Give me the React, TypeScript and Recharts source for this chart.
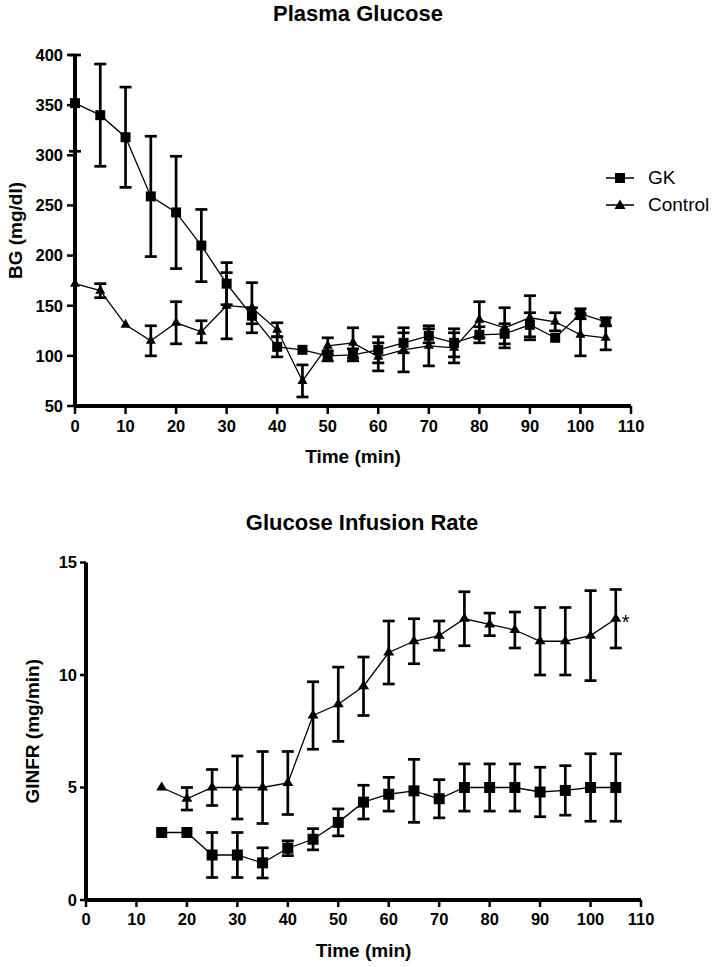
import React from 'react';
import { ComposedChart, Line, XAxis, YAxis, ErrorBar, Legend, ReferenceDot } from 'recharts';

const FONT = '"Liberation Sans", Arial, Helvetica, sans-serif';

// ---------- Plasma Glucose ----------
const bgTimes = [0, 5, 10, 15, 20, 25, 30, 35, 40, 45, 50, 55, 60, 65, 70, 75, 80, 85, 90, 95, 100, 105];
const gkBG = [352, 340, 318, 259, 243, 210, 172, 140, 109, 106, 100, 101, 106, 113, 120, 113, 121, 122, 131, 118, 142, 134];
const gkBGErr = [48, 51, 50, 60, 56, 36, 21, 8, 10, null, 5, 6, 13, 10, 7, 14, 8, 10, 12, null, 5, 4];
const controlBG = [172, 165, 131, 115, 133, 124, 150, 148, 126, 75, 110, 113, 99, 106, 110, 108, 136, 128, 138, 134, 121, 118];
const controlBGErr = [null, 7, null, 15, 21, 11, 33, 25, 7, 16, 8, 15, 14, 22, 20, 15, 18, 20, 22, 9, 21, 12];
const timeTicks = [0, 10, 20, 30, 40, 50, 60, 70, 80, 90, 100, 110];
const bgTicks = [50, 100, 150, 200, 250, 300, 350, 400];

// ---------- Glucose Infusion Rate ----------
const girTimes = [15, 20, 25, 30, 35, 40, 45, 50, 55, 60, 65, 70, 75, 80, 85, 90, 95, 100, 105];
const controlGIR = [5.0, 4.5, 5.0, 5.0, 5.0, 5.2, 8.2, 8.7, 9.5, 11.0, 11.5, 11.75, 12.5, 12.25, 12.0, 11.5, 11.5, 11.75, 12.5];
const controlGIRErr = [null, 0.5, 0.8, 1.4, 1.6, 1.4, 1.5, 1.65, 1.3, 1.4, 1.0, 0.65, 1.2, 0.5, 0.8, 1.5, 1.5, 2.0, 1.3];
const gkGIR = [3.0, 3.0, 2.0, 2.0, 1.65, 2.3, 2.7, 3.45, 4.35, 4.7, 4.85, 4.5, 5.0, 5.0, 5.0, 4.8, 4.87, 5.0, 5.0];
const gkGIRErr = [null, null, 1.0, 1.0, 0.67, 0.33, 0.47, 0.6, 0.75, 0.75, 1.4, 0.85, 1.05, 1.05, 1.05, 1.1, 1.1, 1.5, 1.5];
const girTicks = [0, 5, 10, 15];

const seriesNames = ['GK', 'Control'];

const glucoseData = bgTimes.map((t, i) => ({
  t,
  gk: gkBG[i],
  gkErr: gkBGErr[i],
  ctrl: controlBG[i],
  ctrlErr: controlBGErr[i],
}));

const girData = girTimes.map((t, i) => ({
  t,
  gk: gkGIR[i],
  gkErr: gkGIRErr[i],
  ctrl: controlGIR[i],
  ctrlErr: controlGIRErr[i],
}));

const axisLine = { stroke: '#000', strokeWidth: 4 };
const tickLine = { stroke: '#000', strokeWidth: 2.5 };
const tickStyle = { fill: '#000', fontSize: 16.5, fontWeight: 'bold', fontFamily: FONT };
const axisTitle = { fill: '#000', fontSize: 19, fontWeight: 'bold', fontFamily: FONT };

const squareDot = (size: number) => (props: any) => {
  const { cx, cy, index } = props;
  if (cx == null || cy == null) return <g key={`sq-${index}`} />;
  return <rect key={`sq-${index}`} x={cx - size / 2} y={cy - size / 2} width={size} height={size} fill="#000" />;
};

const triangleDot = (w: number, h: number) => (props: any) => {
  const { cx, cy, index } = props;
  if (cx == null || cy == null) return <g key={`tr-${index}`} />;
  const pts = `${cx},${cy - (h * 2) / 3} ${cx - w / 2},${cy + h / 3} ${cx + w / 2},${cy + h / 3}`;
  return <polygon key={`tr-${index}`} points={pts} fill="#000" />;
};

const LegendIcon = ({ shape }: { shape: string }) => (
  <svg width={28} height={14} style={{ display: 'block' }}>
    <line x1={0} y1={7} x2={28} y2={7} stroke="#000" strokeWidth={1.5} />
    {shape === 'square' ? (
      <rect x={9} y={2} width={10} height={10} fill="#000" />
    ) : (
      <polygon points="14,1.5 8.5,11 19.5,11" fill="#000" />
    )}
  </svg>
);

const renderLegend = () => (
  <div style={{ fontFamily: FONT, fontSize: 19, color: '#000' }}>
    {seriesNames.map((name, i) => (
      <div key={name} style={{ display: 'flex', alignItems: 'center', height: 27 }}>
        <LegendIcon shape={i === 0 ? 'square' : 'triangle'} />
        <span style={{ marginLeft: 14, lineHeight: '27px' }}>{name}</span>
      </div>
    ))}
  </div>
);

const titleStyle = (top: number, cx: number): React.CSSProperties => ({
  position: 'absolute',
  top,
  left: cx - 200,
  width: 400,
  textAlign: 'center',
  fontFamily: FONT,
  fontWeight: 'bold',
  fontSize: 22,
  lineHeight: '22px',
  color: '#000',
});

export default function App() {
  return (
    <div style={{ position: 'absolute', left: 0, top: 0, width: 716, height: 967, background: '#fff', overflow: 'hidden' }}>
      <div style={titleStyle(3, 358)}>Plasma Glucose</div>
      <div style={{ position: 'absolute', left: 0, top: 0 }}>
        <ComposedChart width={716} height={470} data={glucoseData} margin={{ top: 55, right: 85, bottom: 0, left: 0 }}>
          <XAxis
            type="number"
            dataKey="t"
            domain={[0, 110]}
            ticks={timeTicks}
            interval={0}
            axisLine={axisLine}
            tickLine={tickLine}
            tickSize={8}
            tickMargin={6}
            tick={tickStyle}
            height={64}
            label={{ value: 'Time (min)', position: 'insideBottom', offset: 7, ...axisTitle }}
          />
          <YAxis
            type="number"
            domain={[50, 400]}
            ticks={bgTicks}
            interval={0}
            width={75}
            axisLine={axisLine}
            tickLine={tickLine}
            tickSize={8}
            tickMargin={4}
            tick={tickStyle}
            label={{
              value: 'BG (mg/dl)',
              angle: -90,
              position: 'insideLeft',
              offset: 15,
              ...axisTitle,
              style: { textAnchor: 'middle' },
            }}
          />
          <Legend
            content={renderLegend}
            layout="horizontal"
            verticalAlign="middle"
            align="center"
            wrapperStyle={{ left: 606, top: 164, width: 'auto', height: 'auto' }}
          />
          <Line
            type="linear"
            dataKey="gk"
            name="GK"
            stroke="#000"
            strokeWidth={1.3}
            dot={squareDot(10)}
            activeDot={false}
            isAnimationActive={false}
          >
            <ErrorBar dataKey="gkErr" direction="y" width={6} strokeWidth={2.7} stroke="#000" />
          </Line>
          <Line
            type="linear"
            dataKey="ctrl"
            name="Control"
            stroke="#000"
            strokeWidth={1.3}
            dot={triangleDot(10, 9)}
            activeDot={false}
            isAnimationActive={false}
          >
            <ErrorBar dataKey="ctrlErr" direction="y" width={6} strokeWidth={2.7} stroke="#000" />
          </Line>
        </ComposedChart>
      </div>

      <div style={titleStyle(512, 362)}>Glucose Infusion Rate</div>
      <div style={{ position: 'absolute', left: 0, top: 480 }}>
        <ComposedChart width={716} height={487} data={girData} margin={{ top: 82.5, right: 75, bottom: 0, left: 0 }}>
          <XAxis
            type="number"
            dataKey="t"
            domain={[0, 110]}
            ticks={timeTicks}
            interval={0}
            axisLine={axisLine}
            tickLine={tickLine}
            tickSize={7}
            tickMargin={6}
            tick={tickStyle}
            height={67}
            label={{ value: 'Time (min)', position: 'insideBottom', offset: 10, ...axisTitle }}
          />
          <YAxis
            type="number"
            domain={[0, 15]}
            ticks={girTicks}
            interval={0}
            width={86}
            axisLine={axisLine}
            tickLine={tickLine}
            tickSize={6}
            tickMargin={3}
            tick={tickStyle}
            label={{
              value: 'GINFR (mg/min)',
              angle: -90,
              position: 'insideLeft',
              offset: 32,
              ...axisTitle,
              style: { textAnchor: 'middle' },
            }}
          />
          <Line
            type="linear"
            dataKey="ctrl"
            name="Control"
            stroke="#000"
            strokeWidth={1.3}
            dot={triangleDot(11, 9)}
            activeDot={false}
            isAnimationActive={false}
          >
            <ErrorBar dataKey="ctrlErr" direction="y" width={6} strokeWidth={2.7} stroke="#000" />
          </Line>
          <Line
            type="linear"
            dataKey="gk"
            name="GK"
            stroke="#000"
            strokeWidth={1.3}
            dot={squareDot(11)}
            activeDot={false}
            isAnimationActive={false}
          >
            <ErrorBar dataKey="gkErr" direction="y" width={6} strokeWidth={2.7} stroke="#000" />
          </Line>
          <ReferenceDot
            x={105}
            y={12.5}
            r={0}
            fill="none"
            stroke="none"
            label={{ value: '*', position: 'right', offset: 6, dy: 3, fontSize: 20, fill: '#000', fontFamily: FONT }}
          />
        </ComposedChart>
      </div>
    </div>
  );
}
